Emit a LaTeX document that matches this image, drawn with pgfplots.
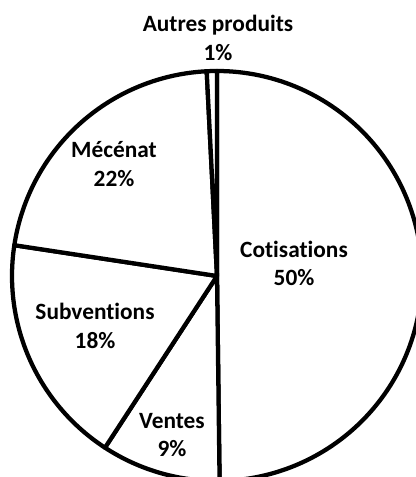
\documentclass[border=0pt]{standalone}
\usepackage{pgfplots}
\pgfplotsset{compat=1.18}
\usepackage{pgfplotstable}
\usepackage{fontspec}
\setmainfont{Carlito}[Ligatures=NoCommon]

\pgfplotstableread{
label value
Cotisations 49.8
Ventes 9.4
Subventions 18.2
Mecenat 21.8
Autres 0.8
}\piedata

\tikzset{lbl/.style={font=\fontsize{17.5}{21.5}\selectfont\bfseries, align=center, text=black, inner sep=0pt}}

\begin{document}
\begin{tikzpicture}
\useasboundingbox (0,0) rectangle (312pt,357.75pt);
\begin{axis}[
  at={(0,0)}, anchor=south west,
  scale only axis, width=312pt, height=357.75pt,
  xmin=-217, xmax=199, ymin=-201, ymax=276,
  hide axis,
]
\def\cum{0}
\pgfplotsforeachungrouped \i in {0,...,4}{%
  \pgfplotstablegetelem{\i}{value}\of\piedata
  \pgfmathsetmacro\a{\cum*3.6}%
  \pgfmathsetmacro\b{(\cum+\pgfplotsretval)*3.6}%
  \pgfmathsetmacro\newcum{\cum+\pgfplotsretval}%
  \xdef\cum{\newcum}%
  \edef\tmp{\noexpand\addplot[draw=black, line width=3.2pt, line join=round, fill=white, domain=\a:\b, samples=120, smooth] ({205*sin(x)},{205*cos(x)}) -- (axis cs:0,0) -- cycle;}%
  \tmp
}
\node[lbl] at (axis cs:1,238) {Autres produits\\1\%};
\node[lbl] at (axis cs:-103,112) {Mécénat\\22\%};
\node[lbl] at (axis cs:77,12.5) {Cotisations\\50\%};
\node[lbl] at (axis cs:-122,-50) {Subventions\\18\%};
\node[lbl] at (axis cs:-45,-159) {Ventes\\9\%};
\end{axis}
\end{tikzpicture}
\end{document}
